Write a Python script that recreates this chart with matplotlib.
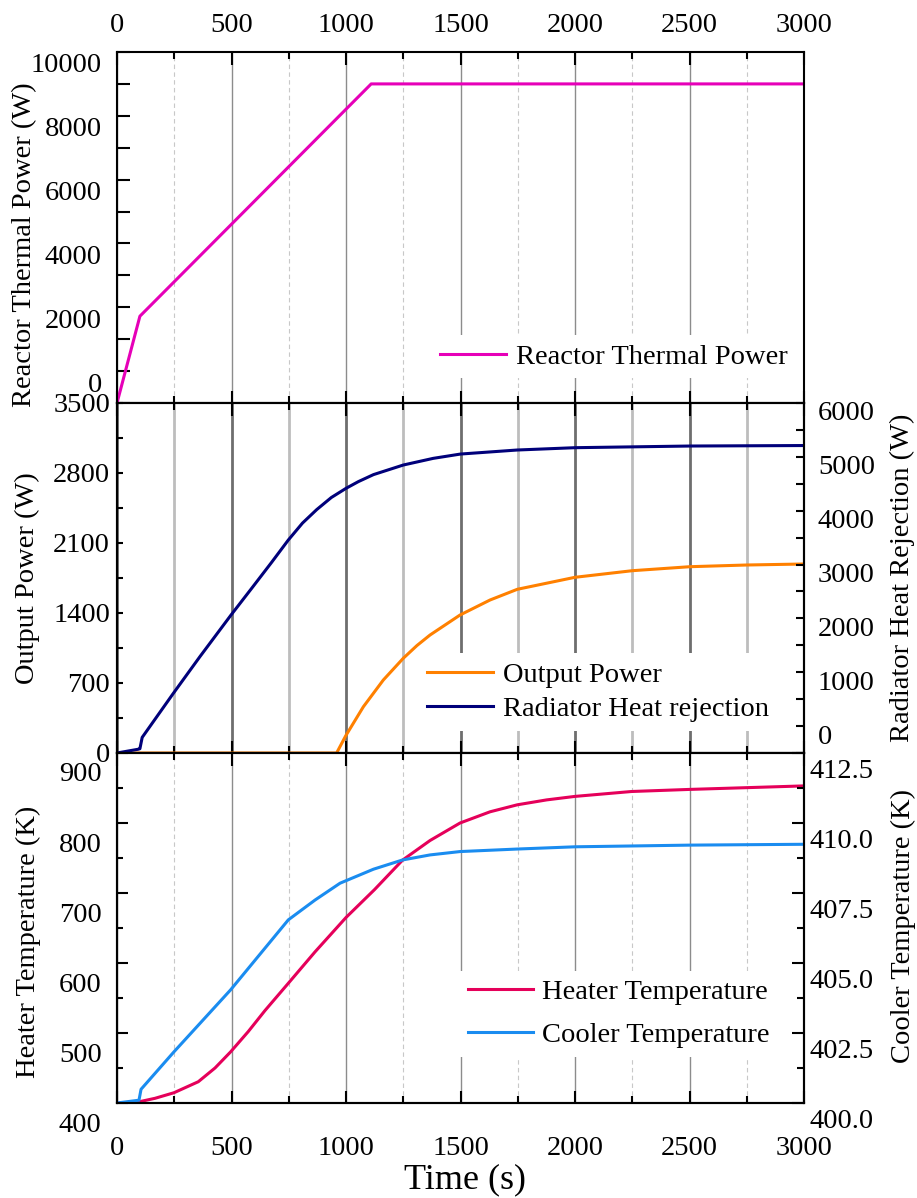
import matplotlib.pyplot as plt
from matplotlib.ticker import MultipleLocator, FormatStrFormatter
from matplotlib.transforms import ScaledTranslation

plt.rcParams["font.family"] = ["Liberation Serif", "DejaVu Serif"]
plt.rcParams["font.size"] = 20.5

# ---- data ----
# reactor thermal power (W)
t_reactor = [0, 100, 1110, 3000]
q_reactor = [0, 2720, 10000, 10000]

# output power (W), left axis of the middle panel
t_output = [0, 959, 999, 1076, 1163, 1250, 1310, 1367, 1498, 1629, 1748, 2000, 2250, 2502, 2750, 3000]
p_output = [0, 0, 173, 463, 730, 947, 1075, 1180, 1380, 1530, 1637, 1757, 1823, 1863, 1880, 1890]

# radiator heat rejection (W), right axis of the middle panel
t_radiator = [0, 93, 100, 110, 246, 362, 498, 588, 675, 748, 810, 872, 936, 1000, 1054, 1120,
              1250, 1381, 1500, 1748, 2000, 2502, 3000]
q_radiator = [0, 70, 80, 290, 1108, 1789, 2563, 3058, 3540, 3955, 4270, 4520, 4745, 4915, 5040, 5170,
              5348, 5472, 5552, 5627, 5670, 5701, 5710]

# heater temperature (K), left axis of the bottom panel
t_heater = [0, 79, 166, 249, 355, 428, 496, 573, 646, 748, 865, 1000, 1125, 1247, 1367, 1498,
            1629, 1748, 1876, 2000, 2247, 2502, 3000]
T_heater = [400, 400.5, 406.7, 414.7, 430.4, 450, 473, 502, 532, 571, 616, 665, 705, 747, 775, 800,
            816, 826, 833, 838, 845, 848, 853]

# cooler temperature (K), right axis of the bottom panel
t_cooler = [0, 96, 105, 249, 496, 748, 865, 974, 1120, 1247, 1367, 1498, 1748, 2000, 2502, 3000]
T_cooler = [400.0, 400.1, 400.49, 401.83, 404.04, 406.54, 407.25, 407.85, 408.35, 408.68, 408.86,
            408.98, 409.07, 409.15, 409.21, 409.24]

W, H = 917, 1198
fig = plt.figure(figsize=(W / 100, H / 100), dpi=100)


def box(top, bottom):
    # axes rectangle from pixel rows of the original picture
    return [117 / W, 1 - bottom / H, (804 - 117) / W, (bottom - top) / H]


def shift_labels(labels, dy_px):
    # the original tick labels sit off their tick marks; reproduce that
    off = ScaledTranslation(0, dy_px / 100, fig.dpi_scale_trans)
    for lab in labels:
        lab.set_transform(lab.get_transform() + off)


def style_x(ax, grid_major, grid_minor):
    ax.set_xlim(0, 3000)
    ax.xaxis.set_major_locator(MultipleLocator(500))
    ax.xaxis.set_minor_locator(MultipleLocator(250))
    ax.tick_params(axis="x", which="both", direction="in", top=True, bottom=True,
                   labelbottom=False, width=1.5)
    ax.tick_params(axis="x", which="major", length=9)
    ax.tick_params(axis="x", which="minor", length=5)
    ax.grid(True, axis="x", which="major", **grid_major)
    ax.grid(True, axis="x", which="minor", **grid_minor)
    ax.set_axisbelow(True)
    for s in ax.spines.values():
        s.set_linewidth(1.5)


thin_major = dict(color="#8c8c8c", lw=1.0, ls="-")
thin_minor = dict(color="#c8c8c8", lw=0.8, ls=(0, (4, 3)))
thick_major = dict(color="#6e6e6e", lw=2.0, ls="-")
thick_minor = dict(color="#bdbdbd", lw=2.0, ls="-")

leg_kw = dict(frameon=True, facecolor="white", edgecolor="none", framealpha=1,
              fancybox=False, borderpad=0.3, borderaxespad=0, handlelength=2.3,
              fontsize=20.5)

# ---- top panel: reactor thermal power ----
ax1 = fig.add_axes(box(52, 403))
style_x(ax1, thin_major, thin_minor)
ax1.tick_params(axis="x", labeltop=True, pad=10)
ax1.plot(t_reactor, q_reactor, color="#e600b8", lw=2.2, label="Reactor Thermal Power")
ax1.set_ylim(0, 11000)
ax1.set_yticks(range(0, 10001, 2000))
ax1.yaxis.set_minor_locator(MultipleLocator(1000))
ax1.tick_params(axis="y", which="both", direction="in", left=True, right=False,
                length=9, width=1.5, pad=11)
shift_labels(ax1.get_yticklabels(), 21)
ax1.legend(loc="upper left", bbox_to_anchor=(0.458, 0.193), handletextpad=0.35, **leg_kw)

# ---- middle panel: output power and radiator heat rejection ----
ax2 = fig.add_axes(box(403, 753))
style_x(ax2, thick_major, thick_minor)
ax2r = ax2.twinx()
l_out, = ax2.plot(t_output, p_output, color="#ff8000", lw=2.2, label="Output Power")
l_rad, = ax2r.plot(t_radiator, q_radiator, color="#00007a", lw=2.2,
                   label="Radiator Heat rejection")
ax2.set_ylim(0, 3500)
ax2.yaxis.set_major_locator(MultipleLocator(700))
ax2.yaxis.set_minor_locator(MultipleLocator(350))
ax2.tick_params(axis="y", which="both", direction="in", length=4.5, width=1.5, pad=5)
ax2r.set_ylim(0, 6500)
ax2r.set_yticks(range(0, 6001, 1000))
ax2r.yaxis.set_minor_locator(MultipleLocator(500))
ax2r.tick_params(axis="y", which="both", direction="in", length=6, width=1.5, pad=10)
for s in ax2r.spines.values():
    s.set_linewidth(1.5)
shift_labels(ax2r.get_yticklabels(), 19)
ax2r.legend([l_out, l_rad], [l_out.get_label(), l_rad.get_label()], loc="upper left",
            bbox_to_anchor=(0.439, 0.285), handletextpad=0.35, labelspacing=0.3, **leg_kw)

# ---- bottom panel: heater and cooler temperatures ----
ax3 = fig.add_axes(box(753, 1103))
style_x(ax3, thin_major, thin_minor)
ax3.tick_params(axis="x", labelbottom=True, pad=24)
ax3r = ax3.twinx()
l_heat, = ax3.plot(t_heater, T_heater, color="#e5005a", lw=2.2, label="Heater Temperature")
l_cool, = ax3r.plot(t_cooler, T_cooler, color="#1a8cf0", lw=2.2, label="Cooler Temperature")
ax3.set_ylim(400, 900)
ax3.yaxis.set_major_locator(MultipleLocator(100))
ax3.yaxis.set_minor_locator(MultipleLocator(50))
ax3.tick_params(axis="y", which="major", direction="in", length=8, width=1.5, pad=11)
ax3.tick_params(axis="y", which="minor", direction="in", length=4, width=1.5)
shift_labels(ax3.get_yticklabels(), -19)
ax3r.set_ylim(400, 412.5)
ax3r.yaxis.set_major_locator(MultipleLocator(2.5))
ax3r.yaxis.set_minor_locator(MultipleLocator(1.25))
ax3r.yaxis.set_major_formatter(FormatStrFormatter("%.1f"))
ax3r.tick_params(axis="y", which="major", direction="in", length=9, width=1.5, pad=4)
ax3r.tick_params(axis="y", which="minor", direction="in", length=5, width=1.5)
for s in ax3r.spines.values():
    s.set_linewidth(1.5)
shift_labels(ax3r.get_yticklabels(), -15)
ax3r.legend([l_heat, l_cool], [l_heat.get_label(), l_cool.get_label()], loc="upper left",
            bbox_to_anchor=(0.4985, 0.378), handletextpad=0.3, labelspacing=0.6, **leg_kw)

# ---- axis titles, placed where the original has them ----
def side_label(x, y, s):
    fig.text(x / W, 1 - y / H, s, rotation=90, ha="center", va="center", fontsize=20.5)


side_label(25, 245, "Reactor Thermal Power (W)")
side_label(27, 578, "Output Power (W)")
side_label(28, 942, "Heater Temperature (K)")
side_label(902, 578, "Radiator Heat Rejection (W)")
side_label(903, 926, "Cooler Temperature (K)")
fig.text(465 / W, 1 - 1180 / H, "Time (s)", ha="center", va="center", fontsize=26)

fig.savefig("out.png", dpi=100)
